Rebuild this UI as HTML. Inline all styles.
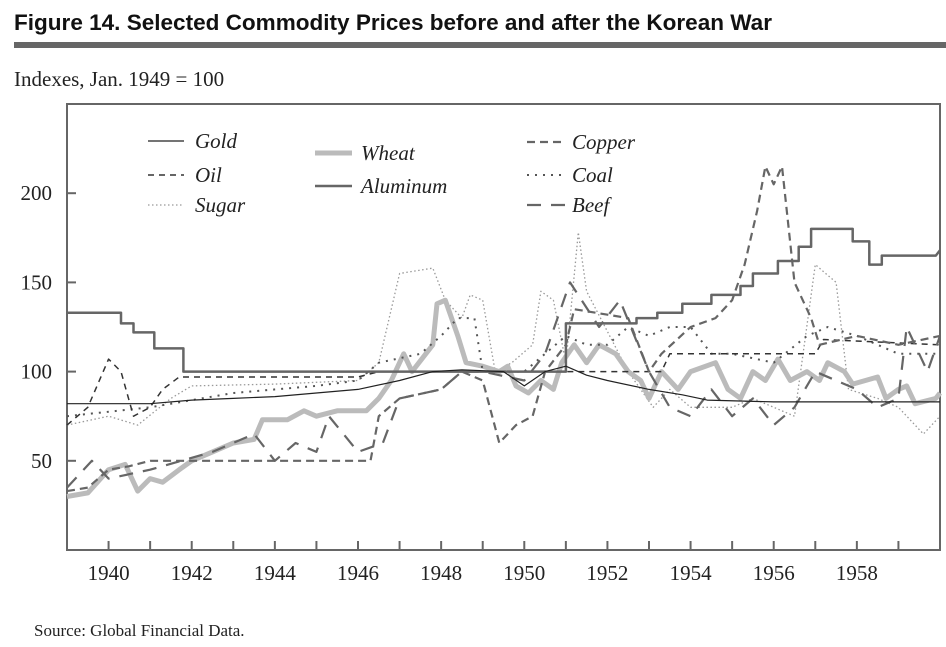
<!DOCTYPE html>
<html><head><meta charset="utf-8"><style>
body{margin:0;background:#fff;width:946px;height:647px;overflow:hidden;font-family:"Liberation Serif",serif}
svg{position:absolute;left:0;top:0}
</style></head><body>
<svg id="c" width="946" height="647">
<text x="14" y="30" font-family="Liberation Sans Narrow, Liberation Sans, sans-serif" font-weight="bold" font-size="22" fill="#111" textLength="758" lengthAdjust="spacingAndGlyphs">Figure 14.  Selected Commodity Prices before and after the Korean War</text>
<rect x="14" y="42" width="932" height="6" fill="#666"/>
<text x="14" y="86" font-size="21" fill="#222">Indexes, Jan. 1949 = 100</text>
<text x="34" y="636" font-size="17" fill="#222">Source: Global Financial Data.</text>
<rect x="67" y="104" width="873" height="446" fill="none" stroke="#666" stroke-width="2"/>
<g id="axes"></g><g id="series"></g>
<g font-style="italic" font-size="21" fill="#222">
<g><line x1="148" y1="141" x2="184" y2="141" stroke="#222" stroke-width="1.3"/><text x="195" y="148">Gold</text></g>
<g><line x1="148" y1="175" x2="184" y2="175" stroke="#333" stroke-width="1.5" stroke-dasharray="6,5"/><text x="195" y="182">Oil</text></g>
<g><line x1="148" y1="205" x2="184" y2="205" stroke="#999" stroke-width="1.3" stroke-dasharray="1.5,2.5"/><text x="195" y="212">Sugar</text></g>
<g><line x1="315" y1="153" x2="352" y2="153" stroke="#bbb" stroke-width="5"/><text x="361" y="160">Wheat</text></g>
<g><line x1="315" y1="186" x2="352" y2="186" stroke="#666" stroke-width="2.5"/><text x="361" y="193">Aluminum</text></g>
<g><line x1="527" y1="142" x2="566" y2="142" stroke="#666" stroke-width="2.2" stroke-dasharray="8,5"/><text x="572" y="149">Copper</text></g>
<g><line x1="527" y1="175" x2="566" y2="175" stroke="#555" stroke-width="2" stroke-dasharray="2,6"/><text x="572" y="182">Coal</text></g>
<g><line x1="527" y1="205" x2="566" y2="205" stroke="#666" stroke-width="2.2" stroke-dasharray="14,10"/><text x="572" y="212">Beef</text></g>
</g>
</svg>
<script>
const yTicks=[50,100,150,200];
const xTickLabels=[1940,1942,1944,1946,1948,1950,1952,1954,1956,1958];
const goldT=[1939,1940,1941,1942,1943,1944,1945,1946,1947,1947.8,1948.5,1949.5,1950,1950.5,1951,1951.5,1952,1953,1953.8,1954.4,1956,1958,1960];
const goldV=[82,82,82,84,85,86,88,90,95,100,101,100,92,100,103,98,95,90,87,84,83,83,83];
const aluT=[1939,1940.3,1940.3,1940.6,1940.6,1941.1,1941.1,1941.8,1941.8,1951,1951,1952.7,1952.7,1953.2,1953.2,1953.8,1953.8,1954.5,1954.5,1955.2,1955.2,1955.5,1955.5,1956.1,1956.1,1956.6,1956.6,1956.9,1956.9,1957.9,1957.9,1958.3,1958.3,1958.6,1958.6,1959.9,1960];
const aluV=[133,133,127,127,122,122,113,113,100,100,127,127,130,130,133,133,138,138,143,143,148,148,155,155,162,162,170,170,180,180,173,173,160,160,165,165,168];
const wheatT=[1939,1939.5,1940,1940.4,1940.7,1941,1941.3,1941.7,1942,1942.5,1943,1943.5,1943.7,1944.3,1944.7,1945,1945.5,1946.2,1946.5,1946.8,1947.1,1947.3,1947.8,1947.9,1948.1,1948.4,1948.6,1949,1949.4,1949.6,1949.8,1950.1,1950.4,1950.7,1950.9,1951.2,1951.5,1951.8,1952.2,1952.5,1952.8,1953,1953.3,1953.7,1954,1954.6,1954.9,1955.2,1955.5,1955.8,1956.1,1956.4,1956.8,1957.1,1957.3,1957.7,1957.9,1958.5,1958.7,1959,1959.2,1959.4,1959.9,1960];
const wheatV=[30,32,45,48,33,40,38,45,50,55,60,62,73,73,78,75,78,78,85,95,110,100,115,138,140,120,105,103,100,103,92,88,95,90,105,115,105,115,110,100,95,85,100,90,100,105,90,85,100,95,107,95,100,95,105,100,93,97,85,90,92,82,85,88];
const copperT=[1939,1939.5,1940,1940.5,1941,1942,1946.3,1946.5,1947,1948,1948.5,1949,1949.4,1949.8,1950.2,1950.5,1951,1951.2,1952.5,1953,1953.3,1954,1954.6,1955,1955.3,1955.6,1955.8,1956,1956.2,1956.5,1956.9,1957.1,1958,1959,1960];
const copperV=[33,35,45,47,50,50,50,75,85,90,100,95,60,70,75,100,115,135,130,100,110,125,130,140,160,190,215,205,215,150,130,115,120,115,120];
const oilT=[1939,1939.5,1940,1940.3,1940.6,1941,1941.3,1941.7,1946,1946.5,1953.3,1953.5,1957,1957.2,1960];
const oilV=[70,80,107,100,75,80,90,97,97,100,100,110,110,118,115];
const coalT=[1939,1941,1943,1945,1946,1946.5,1947.5,1948,1948.4,1948.8,1949,1950,1951,1951.5,1952,1952.5,1953,1953.5,1954,1954.5,1955,1956,1956.8,1957.3,1958,1959,1960];
const coalV=[75,80,88,92,95,105,110,120,130,130,100,100,120,115,115,125,120,125,125,110,110,105,120,125,120,110,110];
const sugarT=[1939,1940,1940.7,1941.5,1942,1944,1946,1946.5,1947,1947.8,1948.1,1948.5,1948.7,1949,1949.3,1949.7,1950.2,1950.4,1950.7,1951,1951.3,1951.5,1952.5,1953.1,1953.5,1954,1955,1955.5,1956.5,1957,1957.5,1957.8,1958.5,1959,1959.6,1960];
const sugarV=[70,75,70,85,92,93,95,105,155,158,140,130,143,140,100,105,115,145,140,105,178,145,100,80,90,80,80,85,75,160,150,90,85,80,65,75];
const beefT=[1939,1939.6,1940,1941,1942.5,1943.5,1944,1944.5,1945,1945.3,1946,1946.6,1947,1948,1948.5,1949,1950,1950.5,1951.1,1951.8,1952.3,1953,1953.5,1954,1954.5,1955,1955.5,1956,1956.5,1957,1957.5,1958,1958.5,1959,1959.2,1959.7,1960];
const beefV=[35,50,40,45,55,65,50,60,55,75,55,60,85,90,100,100,95,110,150,125,140,100,80,75,90,75,85,70,80,100,95,90,80,85,125,100,120];

const NS='http://www.w3.org/2000/svg';
const x=yr=>67+(yr-1939)*(873/21);
const y=v=>550-v*446/250;
const axes=document.getElementById('axes'), ser=document.getElementById('series');
function mk(tag,parent,attrs){const e=document.createElementNS(NS,tag);for(const k in attrs)e.setAttribute(k,attrs[k]);parent.appendChild(e);return e;}
yTicks.forEach(v=>{
  const l=mk('line',axes,{x1:67,x2:76,y1:y(v),y2:y(v),stroke:'#666','stroke-width':2});
  
  
  const t=mk('text',axes,{x:52,y:y(v)+7,'text-anchor':'end','font-size':21,fill:'#222'});
  t.textContent=v;
  
  
});
for(let yr=1940;yr<=1959;yr++){
  const l=mk('line',axes,{x1:x(yr),x2:x(yr),y1:550,y2:541,stroke:'#666','stroke-width':2});
  
  
}
xTickLabels.forEach(yr=>{
  const t=mk('text',axes,{x:x(yr),y:580,'text-anchor':'middle','font-size':21,fill:'#222'});
  t.textContent=yr;
  
  
});
function line(T,V,name,style){
  const d=T.map((t,i)=>(i?'L':'M')+x(t).toFixed(1)+','+y(V[i]).toFixed(1)).join('');
  const p=mk('path',ser,Object.assign({d:d,fill:'none','stroke-linejoin':'round'},style));
  
  
}
line(sugarT,sugarV,'sugar-line',{stroke:'#999','stroke-width':1.3,'stroke-dasharray':'1.5,2.5'});
line(wheatT,wheatV,'wheat-line',{stroke:'#bbb','stroke-width':5});
line(coalT,coalV,'coal-line',{stroke:'#555','stroke-width':2,'stroke-dasharray':'2,6'});
line(oilT,oilV,'oil-line',{stroke:'#333','stroke-width':1.5,'stroke-dasharray':'6,5'});
line(beefT,beefV,'beef-line',{stroke:'#666','stroke-width':2.2,'stroke-dasharray':'14,10'});
line(copperT,copperV,'copper-line',{stroke:'#666','stroke-width':2.2,'stroke-dasharray':'8,5'});
line(aluT,aluV,'aluminum-line',{stroke:'#666','stroke-width':2.5});
line(goldT,goldV,'gold-line',{stroke:'#222','stroke-width':1.2});
</script>
</body></html>
